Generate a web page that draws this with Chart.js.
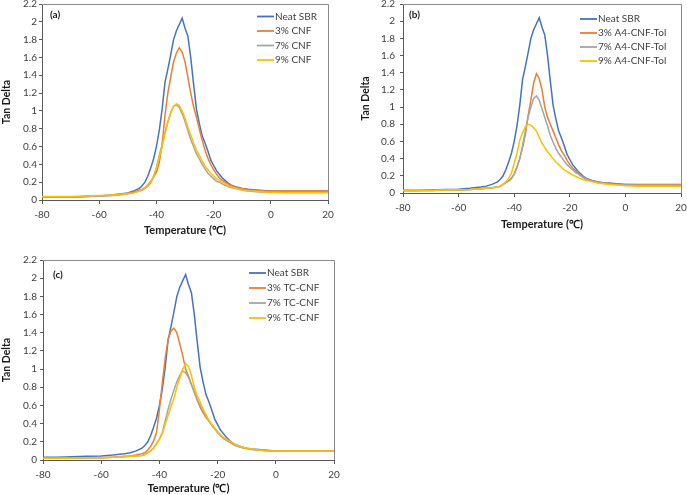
<!DOCTYPE html>
<html><head><meta charset="utf-8">
<script src="https://cdn.jsdelivr.net/npm/chart.js@4.4.0/dist/chart.umd.min.js"></script>
<style>
html,body{margin:0;padding:0;background:#fff;width:687px;height:495px;overflow:hidden;}
.box{position:absolute;}
canvas{display:block;}
</style></head><body>
<div class="box" style="left:0;top:0;width:340px;height:240px"><canvas id="ca"></canvas></div>
<div class="box" style="left:345px;top:0;width:342px;height:240px"><canvas id="cb"></canvas></div>
<div class="box" style="left:0;top:250px;width:340px;height:245px"><canvas id="cc"></canvas></div>
<script>
// ---- data ----
const temps = [-80,-75,-70,-65,-60,-56,-52,-50,-48,-46,
  -45,-44,-43,-42,-41,-40,-39,-38,-37,-36,-35,-34,-33,-32,-31,-30,-29,-28,-27,-26,-25,-24,-23,-22,-21,-20,-19,-18,-17,-16,-15,-14,
  -12,-10,-8,-6,-4,-2,0,5,10,15,20];
const xTicks = [-80,-60,-40,-20,0,20];
const yTicks = [0,0.2,0.4,0.6,0.8,1,1.2,1.4,1.6,1.8,2,2.2];

const neatSBR = [0.03,0.03,0.035,0.04,0.045,0.055,0.07,0.08,0.1,0.13,
  0.16,0.2,0.27,0.36,0.46,0.6,0.78,1.02,1.32,1.47,1.63,1.8,1.9,1.97,2.04,1.93,1.84,1.6,1.3,1.02,0.86,0.72,0.64,0.55,0.45,0.39,0.33,0.29,0.25,0.22,0.19,0.17,
  0.145,0.13,0.12,0.115,0.11,0.105,0.1,0.1,0.1,0.1,0.1];

const cnf3 = [0.03,0.03,0.035,0.04,0.045,0.05,0.065,0.075,0.09,0.11,
  0.12,0.14,0.17,0.21,0.26,0.31,0.42,0.62,0.95,1.2,1.38,1.55,1.65,1.71,1.66,1.55,1.38,1.2,1.05,0.93,0.8,0.67,0.56,0.47,0.4,0.34,0.29,0.25,0.22,0.2,0.18,0.16,
  0.14,0.125,0.115,0.11,0.105,0.1,0.1,0.1,0.1,0.1,0.1];
const cnf7 = [0.035,0.035,0.035,0.04,0.045,0.05,0.06,0.07,0.08,0.1,
  0.11,0.13,0.155,0.19,0.26,0.36,0.5,0.62,0.76,0.88,0.98,1.05,1.07,1.04,0.97,0.88,0.78,0.68,0.6,0.52,0.46,0.4,0.35,0.3,0.27,0.24,0.21,0.2,0.18,0.165,0.15,0.14,
  0.125,0.11,0.1,0.095,0.09,0.09,0.088,0.085,0.085,0.085,0.085];
const cnf9 = [0.04,0.04,0.04,0.045,0.05,0.055,0.065,0.07,0.08,0.1,
  0.12,0.14,0.165,0.2,0.27,0.36,0.48,0.6,0.74,0.87,0.98,1.05,1.08,1.06,1.0,0.92,0.82,0.73,0.64,0.56,0.5,0.44,0.38,0.34,0.3,0.27,0.24,0.22,0.2,0.18,0.16,0.15,
  0.13,0.115,0.105,0.1,0.095,0.09,0.088,0.085,0.085,0.085,0.085];

const tol3 = [0.03,0.03,0.03,0.035,0.035,0.04,0.05,0.055,0.06,0.07,
  0.08,0.1,0.12,0.14,0.17,0.22,0.3,0.4,0.53,0.68,0.9,1.08,1.28,1.39,1.33,1.2,1.0,0.88,0.8,0.72,0.64,0.56,0.49,0.44,0.38,0.33,0.29,0.26,0.23,0.2,0.18,0.16,
  0.14,0.125,0.115,0.11,0.105,0.1,0.1,0.095,0.095,0.095,0.095];
const tol7 = [0.03,0.03,0.03,0.035,0.035,0.04,0.05,0.055,0.06,0.07,
  0.08,0.1,0.12,0.14,0.17,0.22,0.3,0.4,0.55,0.72,0.88,1.0,1.1,1.13,1.08,0.98,0.88,0.78,0.67,0.59,0.52,0.46,0.42,0.37,0.33,0.3,0.27,0.24,0.22,0.2,0.18,0.16,
  0.14,0.12,0.11,0.105,0.1,0.095,0.095,0.09,0.09,0.09,0.09];
const tol9 = [0.03,0.03,0.03,0.035,0.035,0.04,0.05,0.055,0.06,0.07,
  0.08,0.1,0.13,0.17,0.23,0.35,0.46,0.61,0.7,0.77,0.8,0.79,0.76,0.72,0.65,0.58,0.53,0.48,0.44,0.4,0.36,0.33,0.3,0.27,0.25,0.23,0.21,0.195,0.18,0.165,0.155,0.145,
  0.13,0.12,0.11,0.1,0.095,0.09,0.085,0.08,0.08,0.08,0.08];

const tc3 = [0.02,0.02,0.02,0.025,0.025,0.03,0.04,0.045,0.055,0.07,
  0.08,0.11,0.15,0.21,0.3,0.55,0.85,1.12,1.33,1.42,1.45,1.4,1.28,1.15,1.0,0.92,0.83,0.75,0.66,0.58,0.52,0.47,0.43,0.39,0.35,0.31,0.27,0.24,0.22,0.2,0.18,0.165,
  0.14,0.125,0.115,0.11,0.105,0.1,0.1,0.095,0.095,0.095,0.095];
const tc7 = [0.02,0.02,0.02,0.025,0.025,0.03,0.035,0.04,0.045,0.05,
  0.06,0.08,0.1,0.13,0.18,0.23,0.3,0.43,0.56,0.67,0.77,0.86,0.93,0.98,0.96,0.91,0.83,0.74,0.66,0.6,0.54,0.48,0.43,0.38,0.34,0.3,0.27,0.24,0.22,0.2,0.18,0.16,
  0.14,0.125,0.115,0.11,0.105,0.1,0.1,0.095,0.095,0.095,0.095];
const tc9 = [0.02,0.02,0.02,0.025,0.025,0.03,0.035,0.04,0.045,0.05,
  0.06,0.08,0.1,0.13,0.17,0.23,0.29,0.39,0.49,0.59,0.68,0.8,0.9,1.0,1.06,1.03,0.93,0.8,0.71,0.64,0.56,0.5,0.44,0.39,0.35,0.31,0.28,0.25,0.23,0.21,0.19,0.17,
  0.145,0.13,0.12,0.11,0.105,0.1,0.1,0.1,0.1,0.1,0.1];

const labelsA = ['Neat SBR','3% CNF','7% CNF','9% CNF'];
const labelsB = ['Neat SBR','3% A4-CNF-Tol','7% A4-CNF-Tol','9% A4-CNF-Tol'];
const labelsC = ['Neat SBR','3% TC-CNF','7% TC-CNF','9% TC-CNF'];
const colors = ['#4472C4','#ED7D31','#A5A5A5','#FFC000'];

// ---- drawing ----
const FONT = 'Lato, "Liberation Sans", sans-serif';
const axisColor = '#595959';
const frameColor = '#8a8a8a';

const deco = {
  id: 'deco',
  beforeDatasetsDraw(chart, args, opts) {
    const a = chart.chartArea, ctx = chart.ctx;
    ctx.save();
    ctx.strokeStyle = frameColor; ctx.lineWidth = 1;
    ctx.beginPath();
    ctx.moveTo(a.left, a.top + 0.5); ctx.lineTo(a.right + 0.5, a.top + 0.5); ctx.lineTo(a.right + 0.5, a.bottom);
    ctx.stroke();
    ctx.restore();
  },
  afterDraw(chart, args, opts) {
    const ctx = chart.ctx;
    ctx.save();
    ctx.font = 'bold 10px ' + FONT;
    ctx.fillStyle = '#1a1a1a';
    ctx.textBaseline = 'middle'; ctx.textAlign = 'left';
    ctx.fillText(opts.panel, opts.panelX, opts.panelY);
    ctx.font = '10px ' + FONT;
    ctx.fillStyle = '#404040';
    chart.data.datasets.forEach((ds, i) => {
      const y = opts.legY + i * opts.legStep;
      ctx.strokeStyle = ds.borderColor; ctx.lineWidth = 1.8;
      ctx.beginPath(); ctx.moveTo(opts.legX, y); ctx.lineTo(opts.legX + 17, y); ctx.stroke();
      ctx.fillText(ds.label, opts.legX + 18, y);
    });
    ctx.restore();
  }
};

function makeChart(id, labels, series, geo) {
  const datasets = series.map((s, i) => ({
    label: labels[i],
    data: temps.map((t, j) => ({x: t, y: s[j]})),
    borderColor: colors[i], backgroundColor: colors[i],
    borderWidth: 1.5, pointRadius: 0, tension: 0, fill: false, order: 3 - i
  }));
  return new Chart(document.getElementById(id), {
    type: 'line',
    data: {datasets},
    options: {
      responsive: true, maintainAspectRatio: false, animation: false,
      layout: {padding: {left: geo.padL, right: geo.padR, top: geo.padT, bottom: 0}},
      plugins: {legend: {display: false}, tooltip: {enabled: false},
        deco: {panel: geo.panel, panelX: geo.panelX, panelY: geo.panelY, legX: geo.legX, legY: geo.legY, legStep: geo.legStep}},
      scales: {
        x: {
          type: 'linear', min: -80, max: 20,
          afterBuildTicks: s => { s.ticks = xTicks.map(v => ({value: v})); },
          afterFit: s => { s.height = geo.xH; s.paddingLeft = 0; s.paddingRight = 0; },
          grid: {display: true, drawOnChartArea: false, drawTicks: true, tickLength: 4, color: axisColor},
          border: {display: true, color: axisColor, width: 1},
          ticks: {color: '#404040', font: {family: FONT, size: 10}, padding: geo.xTickPad, maxRotation: 0, autoSkip: false,
            callback: v => String(v)},
          title: {display: true, text: 'Temperature (℃)', color: '#1a1a1a', font: {family: FONT, size: 11, weight: 'bold'},
            padding: {top: 0, bottom: geo.xTitlePad}}
        },
        y: {
          type: 'linear', min: 0, max: 2.2,
          afterBuildTicks: s => { s.ticks = yTicks.map(v => ({value: v})); },
          afterFit: s => { s.width = geo.yW; s.paddingTop = 0; s.paddingBottom = 0; },
          grid: {display: true, drawOnChartArea: false, drawTicks: true, tickLength: 3, color: axisColor},
          border: {display: true, color: axisColor, width: 1},
          ticks: {color: '#404040', font: {family: FONT, size: 10}, padding: geo.yTickPad, autoSkip: false,
            callback: v => String(Math.round(v * 10) / 10)},
          title: {display: true, text: 'Tan Delta', color: '#1a1a1a', font: {family: FONT, size: 10.5, weight: 'bold'},
            padding: {top: 0, bottom: 0}}
        }
      }
    },
    plugins: [deco]
  });
}

makeChart('ca', labelsA, [neatSBR, cnf3, cnf7, cnf9],
  {padL: 0, padR: 12, padT: 4, yW: 42, xH: 40, xTickPad: 5, yTickPad: 2, xTitlePad: 3,
   panel: '(a)', panelX: 50, panelY: 15, legX: 257, legY: 16.5, legStep: 14.5});
makeChart('cb', labelsB, [neatSBR, tol3, tol7, tol9],
  {padL: 14, padR: 6, padT: 4, yW: 44, xH: 47, xTickPad: 5, yTickPad: 5, xTitlePad: 9,
   panel: '(b)', panelX: 64, panelY: 15, legX: 235, legY: 19, legStep: 14});
makeChart('cc', labelsC, [neatSBR, tc3, tc7, tc9],
  {padL: 0, padR: 6, padT: 10, yW: 43, xH: 35, xTickPad: 5, yTickPad: 3, xTitlePad: 0,
   panel: '(c)', panelX: 53, panelY: 25, legX: 249, legY: 23, legStep: 15});
</script>
</body></html>
